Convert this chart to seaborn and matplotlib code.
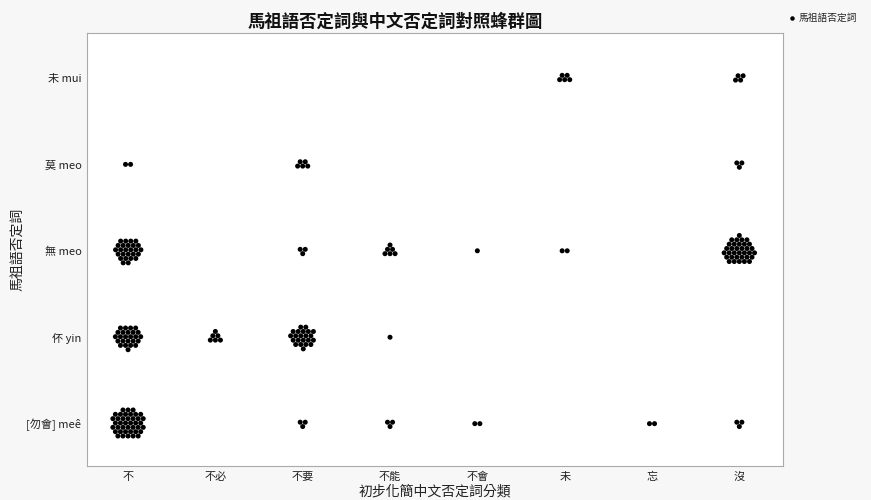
import numpy as np
import pandas as pd
import matplotlib
matplotlib.use('Agg')
import matplotlib.pyplot as plt
import seaborn as sns

# categories
x_cats = ['不', '不必', '不要', '不能', '不會', '未', '忘', '沒']
y_cats = ['[勿會] meê', '伓 yin', '無 meo', '莫 meo', '未 mui']  # bottom to top

# counts of tokens per Chinese category, one list per Matsu negator
cnt_meee = [40, 0, 3, 3, 2, 0, 2, 3]
cnt_yin = [25, 6, 22, 1, 0, 0, 0, 0]
cnt_wu = [26, 0, 3, 6, 1, 2, 0, 34]
cnt_mo = [2, 0, 5, 0, 0, 0, 0, 3]
cnt_mui = [0, 0, 0, 0, 0, 5, 0, 4]
counts = [cnt_meee, cnt_yin, cnt_wu, cnt_mo, cnt_mui]

sns.set_theme(style='white')
plt.rcParams['font.family'] = ['Noto Sans CJK TC', 'DejaVu Sans']


def hex_offsets(n, d=0.058):
    # pack n points on a hex lattice, growing from a small triangle
    h = d * np.sqrt(3) / 2
    pts = []
    for j in range(-9, 10):
        for i in range(-9, 10):
            pts.append(((i + (j % 2) * 0.5) * d, j * h))
    pts = np.array(pts)
    c = np.array([0.5 * d, -h / 3])
    dist = np.round(np.hypot(pts[:, 0] - c[0], (pts[:, 1] - c[1]) * 1.03) / d, 3)
    order = np.lexsort((pts[:, 0], -pts[:, 1], dist))
    sel = pts[order[:n]]
    return sel - sel.mean(axis=0)


rows = []
for yi, yc in enumerate(y_cats):
    for xi, xc in enumerate(x_cats):
        n = counts[yi][xi]
        if n == 0:
            continue
        for dx, dy in hex_offsets(n):
            rows.append({'x': xi + dx, 'y': yi + dy, 'group': '馬祖語否定詞'})
df = pd.DataFrame(rows)

fig = plt.figure(figsize=(8.71, 5.0), dpi=100, facecolor='#f7f7f7')
ax = fig.add_axes([87 / 871, 34 / 500, (783 - 87) / 871, (467 - 34) / 500])
ax.set_facecolor('white')

sns.scatterplot(data=df, x='x', y='y', hue='group', palette=['black'],
                s=13, edgecolor='none', ax=ax, legend=True)

ax.set_xlim(-0.47, 7.5)
ax.set_ylim(-0.49, 4.52)
ax.set_xticks(range(len(x_cats)))
ax.set_xticklabels(x_cats, fontsize=8)
ax.set_yticks(range(len(y_cats)))
ax.set_yticklabels(y_cats, fontsize=8)
ax.tick_params(length=0, pad=4, colors='#222222')
for sp in ax.spines.values():
    sp.set_color('#aaaaaa')
    sp.set_linewidth(0.8)

ax.set_xlabel('初步化簡中文否定詞分類', fontsize=10, labelpad=2, color='#222222')
ax.set_ylabel('馬祖語否定詞', fontsize=10, color='#222222')
ax.yaxis.set_label_coords(-(87 - 25) / 696, 0.5)

fig.text(395 / 871, 1 - 22 / 500, '馬祖語否定詞與中文否定詞對照蜂群圖',
         ha='center', va='center', fontsize=12.5, fontweight='bold', color='#111111')

handles, labels = ax.get_legend_handles_labels()
ax.get_legend().remove()
fig.legend(handles, labels, loc='center left', bbox_to_anchor=(786 / 871, 1 - 18 / 500),
           frameon=False, fontsize=7, handletextpad=0.1, handlelength=1.2,
           markerscale=0.9, borderaxespad=0, borderpad=0)

fig.savefig('out.png', dpi=100, facecolor=fig.get_facecolor())
